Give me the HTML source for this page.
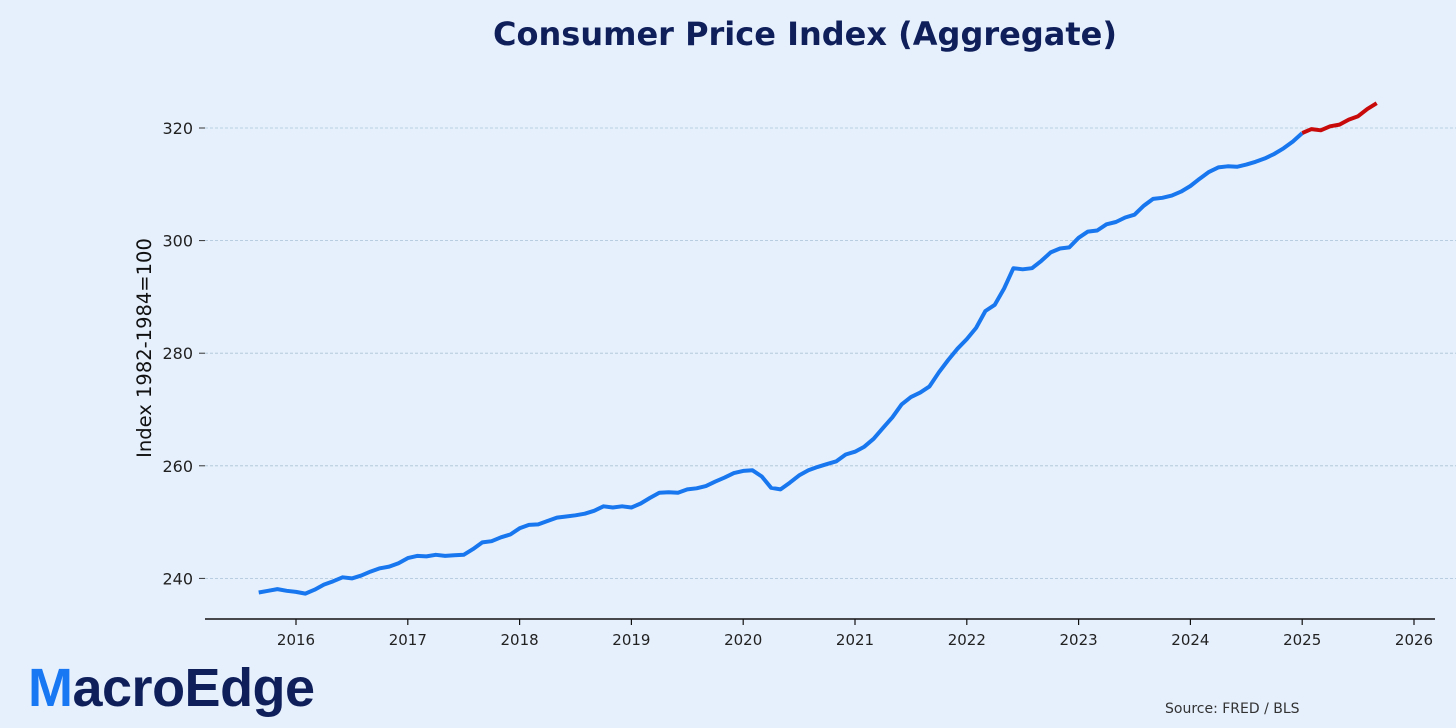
<!DOCTYPE html>
<html><head><meta charset="utf-8"><style>
body{margin:0;background:#E6F0FD;}
svg{display:block;font-family:"DejaVu Sans","Liberation Sans",sans-serif;}
</style></head><body>
<svg width="1456" height="728" viewBox="0 0 1456 728">
<rect width="1456" height="728" fill="#E6F0FD"/>
<text x="805" y="45" text-anchor="middle" font-size="32" font-weight="bold" fill="#0F1F5A">Consumer Price Index (Aggregate)</text>
<g id="grid"></g><g id="yticks"></g><g id="xticks"></g>
<line x1="205" y1="619" x2="1435" y2="619" stroke="#111" stroke-width="1.6"/>
<text transform="translate(151,348) rotate(-90)" text-anchor="middle" font-size="19.5" fill="#111">Index 1982-1984=100</text>
<g id="series"></g>
<g>
<text x="28" y="706" font-size="54" font-weight="bold" fill="#0F1F5A" font-family="'Liberation Sans',sans-serif" letter-spacing="-0.5"><tspan fill="#1877F2">M</tspan>acroEdge</text>
</g>
<text x="1165" y="713" font-size="14" fill="#333">Source: FRED / BLS</text>
</svg>
<script>
const startYear = 2015, startMonth = 9;
const cpiValues = [237.5,237.8,238.1,237.8,
237.6,237.3,238.0,238.9,239.5,240.2,240.0,240.5,241.2,241.8,242.1,242.7,
243.6,244.0,243.9,244.2,244.0,244.1,244.2,245.2,246.4,246.6,247.3,247.8,
248.9,249.5,249.6,250.2,250.8,251.0,251.2,251.5,252.0,252.8,252.6,252.8,
252.6,253.3,254.3,255.2,255.3,255.2,255.8,256.0,256.4,257.2,257.9,258.7,
259.1,259.2,258.1,256.1,255.8,257.0,258.3,259.2,259.8,260.3,260.8,262.0,
262.5,263.4,264.8,266.7,268.6,270.9,272.2,273.0,274.1,276.6,278.8,280.8,
282.5,284.5,287.5,288.6,291.5,295.1,294.9,295.1,296.4,297.9,298.6,298.8,
300.5,301.6,301.8,302.9,303.3,304.1,304.6,306.2,307.4,307.6,308.0,308.7,
309.7,311.0,312.2,313.0,313.2,313.1,313.5,314.0,314.6,315.4,316.4,317.6,
319.1,319.8,319.6,320.3,320.6,321.5,322.1,323.4,324.4];
const highlightStart = 2025;
const yTicks = [240,260,280,300,320];
const xTicks = [2016,2017,2018,2019,2020,2021,2022,2023,2024,2025,2026];
const NS="http://www.w3.org/2000/svg";
function xs(t){return 296+(t-2016)*111.8;}
function ys(v){return 128+(320-v)*5.63;}
function mk(tag,attrs,parent){const e=document.createElementNS(NS,tag);for(const k in attrs)e.setAttribute(k,attrs[k]);document.getElementById(parent).appendChild(e);return e;}
yTicks.forEach(v=>{
 const g=mk('line',{x1:205,x2:1456,y1:ys(v),y2:ys(v),stroke:'#A9C3D6','stroke-width':0.8,'stroke-dasharray':'3,2'},'grid');
 
 
 const tk=mk('line',{x1:199,x2:205,y1:ys(v),y2:ys(v),stroke:'#333','stroke-width':1},'yticks');
 
 
 const t=mk('text',{x:193,y:ys(v)+6,'text-anchor':'end','font-size':16,fill:'#222'},'yticks');
 t.textContent=v;
 
 
});
xTicks.forEach(y=>{
 const l=mk('line',{x1:xs(y),x2:xs(y),y1:619,y2:625,stroke:'#111','stroke-width':1.2},'xticks');
 
 
 const t=mk('text',{x:xs(y),y:645,'text-anchor':'middle','font-size':15,fill:'#222'},'xticks');
 t.textContent=y;
 
 
});
const pts=cpiValues.map((v,i)=>{const t=startYear+(startMonth-1+i)/12;return [t,v];});
const blue=pts.filter(p=>p[0]<=highlightStart+1e-9), red=pts.filter(p=>p[0]>=highlightStart-1e-9);
function d(a){return a.map((p,i)=>(i?'L':'M')+xs(p[0]).toFixed(1)+','+ys(p[1]).toFixed(1)).join('');}
const b=mk('path',{d:d(blue),fill:'none',stroke:'#1877EE','stroke-width':4,'stroke-linejoin':'round'},'series');


const r=mk('path',{d:d(red),fill:'none',stroke:'#C80A0A','stroke-width':4,'stroke-linejoin':'round'},'series');


</script>
</body></html>
